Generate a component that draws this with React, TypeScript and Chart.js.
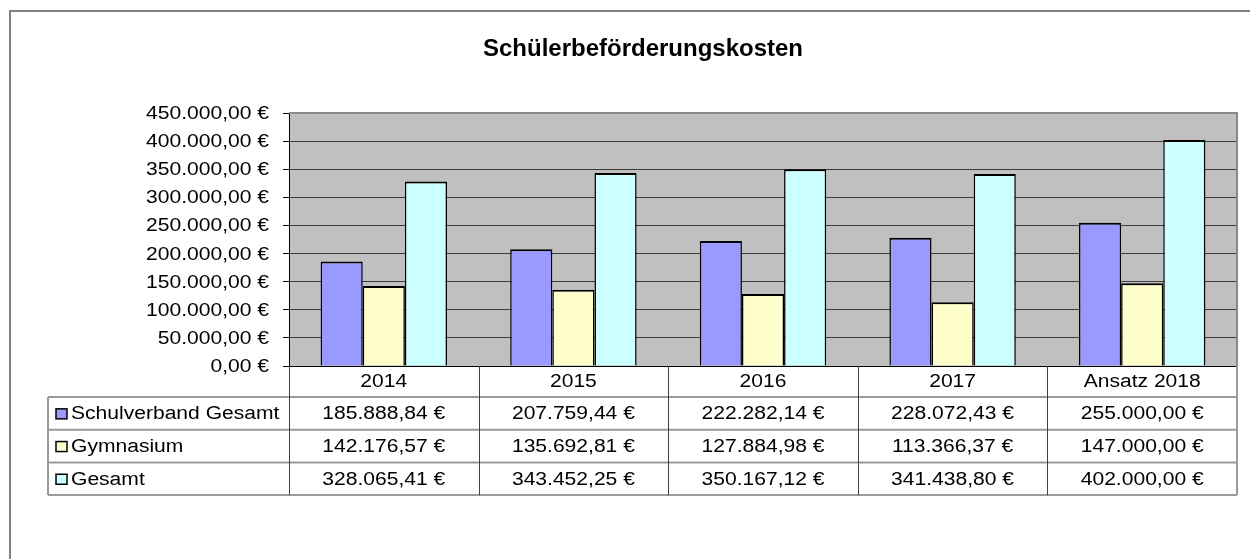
import React, { useEffect, useRef } from 'react';
import { Chart, registerables } from 'chart.js';

Chart.register(...registerables);

const TITLE = 'Schülerbeförderungskosten';
const categories = ['2014', '2015', '2016', '2017', 'Ansatz 2018'];
const seriesNames = ['Schulverband Gesamt', 'Gymnasium', 'Gesamt'];
const schulverband = [185888.84, 207759.44, 222282.14, 228072.43, 255000.0];
const gymnasium = [142176.57, 135692.81, 127884.98, 113366.37, 147000.0];
const gesamt = [328065.41, 343452.25, 350167.12, 341438.8, 402000.0];
const seriesColors = ['#9999FF', '#FFFFCC', '#CCFFFF'];
const yMin = 0;
const yMax = 450000;
const yStep = 50000;

const FONT_FAMILY = '"Liberation Sans", Arial, Helvetica, sans-serif';
const BODY_FONT = `18px ${FONT_FAMILY}`;
const TITLE_FONT = `bold 24px ${FONT_FAMILY}`;
const SX = 1.17;

function fmtEuro(v: number): string {
  const neg = v < 0;
  const fixed = Math.abs(v).toFixed(2);
  const [intPart, dec] = fixed.split('.');
  const withSep = intPart.replace(/\B(?=(\d{3})+(?!\d))/g, '.');
  return (neg ? '-' : '') + withSep + ',' + dec + ' €';
}

function drawText(
  ctx: CanvasRenderingContext2D,
  text: string,
  x: number,
  y: number,
  align: CanvasTextAlign,
  font: string,
  sx: number
) {
  ctx.save();
  ctx.font = font;
  ctx.fillStyle = '#000000';
  ctx.textBaseline = 'middle';
  ctx.textAlign = align;
  ctx.translate(x, y);
  ctx.scale(sx, 1);
  ctx.fillText(text, 0, 0);
  ctx.restore();
}

const decorPlugin = {
  id: 'excelDecor',
  beforeDraw(chart: any) {
    const { ctx, chartArea } = chart;
    ctx.save();
    ctx.fillStyle = '#ffffff';
    ctx.fillRect(0, 0, chart.width, chart.height);
    // outer frame
    ctx.strokeStyle = '#808080';
    ctx.lineWidth = 2;
    ctx.strokeRect(10, 11, 1400, 700);
    // plot background
    ctx.fillStyle = '#C0C0C0';
    ctx.fillRect(chartArea.left, chartArea.top, chartArea.right - chartArea.left, chartArea.bottom - chartArea.top);
    ctx.restore();
  },
  afterDraw(chart: any) {
    const { ctx, chartArea } = chart;
    const xs = chart.scales.x;
    const ys = chart.scales.y;

    // plot border top/right
    ctx.save();
    ctx.strokeStyle = '#8a8a8a';
    ctx.lineWidth = 2;
    ctx.beginPath();
    ctx.moveTo(chartArea.left, chartArea.top);
    ctx.lineTo(chartArea.right, chartArea.top);
    ctx.lineTo(chartArea.right, chartArea.bottom);
    ctx.stroke();
    ctx.restore();

    // title
    ctx.save();
    ctx.font = TITLE_FONT;
    ctx.fillStyle = '#000';
    ctx.textAlign = 'center';
    ctx.textBaseline = 'alphabetic';
    ctx.fillText(TITLE, 643, 56);
    ctx.restore();

    // y tick labels
    ys.ticks.forEach((t: any) => {
      const py = ys.getPixelForValue(t.value);
      drawText(ctx, fmtEuro(t.value), 269, py + 1, 'right', BODY_FONT, SX);
    });

    // data table
    const n = categories.length;
    const step = n > 1 ? xs.getPixelForValue(1) - xs.getPixelForValue(0) : chartArea.right - chartArea.left;
    const half = step / 2;
    const headTop = chartArea.bottom;
    const headBottom = headTop + 31;
    const rowH = 32.7;
    const tableLeft = 48;
    const tableRight = chartArea.right;
    const rowsData = [schulverband, gymnasium, gesamt];
    const tableBottom = headBottom + rowH * rowsData.length;

    ctx.save();
    ctx.strokeStyle = '#9a9a9a';
    ctx.lineWidth = 2;
    for (let r = 0; r <= rowsData.length; r++) {
      const y = headBottom + r * rowH;
      ctx.beginPath();
      ctx.moveTo(tableLeft, y);
      ctx.lineTo(tableRight, y);
      ctx.stroke();
    }
    ctx.beginPath();
    ctx.moveTo(tableLeft, headBottom);
    ctx.lineTo(tableLeft, tableBottom);
    ctx.moveTo(tableRight, headTop);
    ctx.lineTo(tableRight, tableBottom);
    ctx.stroke();
    ctx.strokeStyle = '#404040';
    ctx.lineWidth = 1;
    for (let i = 0; i < n; i++) {
      const bx = Math.round(xs.getPixelForValue(i) - half) + 0.5;
      ctx.beginPath();
      ctx.moveTo(bx, headTop);
      ctx.lineTo(bx, tableBottom);
      ctx.stroke();
    }
    ctx.restore();

    categories.forEach((c, i) => {
      drawText(ctx, c, xs.getPixelForValue(i), (headTop + headBottom) / 2 + 1, 'center', BODY_FONT, SX);
    });

    rowsData.forEach((row, r) => {
      const cy = headBottom + r * rowH + rowH / 2 + 1;
      ctx.save();
      ctx.fillStyle = seriesColors[r];
      ctx.strokeStyle = '#000';
      ctx.lineWidth = 1.5;
      ctx.fillRect(56, cy - 5.5, 11, 10);
      ctx.strokeRect(56, cy - 5.5, 11, 10);
      ctx.restore();
      drawText(ctx, seriesNames[r], 71, cy, 'left', BODY_FONT, SX);
      row.forEach((v, i) => {
        drawText(ctx, fmtEuro(v), xs.getPixelForValue(i), cy, 'center', BODY_FONT, SX);
      });
    });
  },
};

export default function App() {
  const ref = useRef<HTMLCanvasElement>(null);

  useEffect(() => {
    const canvas = ref.current;
    if (!canvas) return;
    const seriesData = [schulverband, gymnasium, gesamt];
    const chart = new Chart(canvas, {
      type: 'bar',
      data: {
        labels: categories,
        datasets: seriesNames.map((name, i) => ({
          label: name,
          data: seriesData[i],
          backgroundColor: seriesColors[i],
          borderColor: '#000000',
          borderWidth: { top: 2, left: 1.5, right: 1.5, bottom: 0 },
          borderSkipped: false,
          categoryPercentage: 3 / 4.5,
          barPercentage: 1.0,
        })),
      },
      options: {
        animation: false,
        responsive: false,
        maintainAspectRatio: false,
        devicePixelRatio: 1,
        layout: { padding: { left: 0, top: 113, right: 13, bottom: 0 } },
        plugins: {
          legend: { display: false },
          title: { display: false },
          tooltip: { enabled: false },
        },
        scales: {
          x: {
            type: 'category',
            offset: true,
            grid: { display: false, drawTicks: false },
            ticks: { display: false },
            border: { display: true, color: '#000000', width: 1 },
            afterFit: (scale: any) => {
              scale.height = 193;
            },
          },
          y: {
            min: yMin,
            max: yMax,
            ticks: { display: false, stepSize: yStep },
            grid: {
              display: true,
              color: '#3c3c3c',
              lineWidth: 1,
              drawTicks: true,
              tickLength: 6,
              tickColor: '#000000',
            },
            border: { display: true, color: '#000000', width: 1 },
            afterFit: (scale: any) => {
              scale.width = 289;
            },
          },
        },
      },
      plugins: [decorPlugin],
    } as any);
    return () => chart.destroy();
  }, []);

  return (
    <div style={{ position: 'absolute', left: 0, top: 0, width: 1250, height: 559 }}>
      <canvas ref={ref} width={1250} height={559} style={{ display: 'block', width: 1250, height: 559 }} />
    </div>
  );
}
